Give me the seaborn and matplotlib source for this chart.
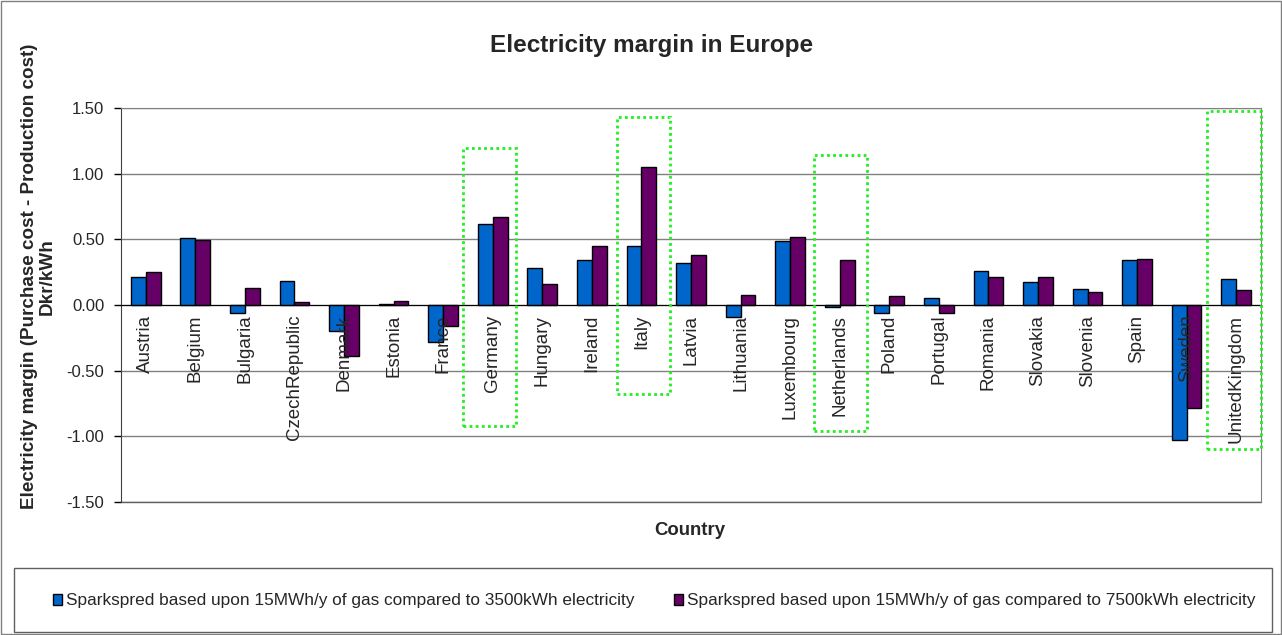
import matplotlib
matplotlib.use("Agg")
import matplotlib.pyplot as plt
from matplotlib.patches import Rectangle
from matplotlib.ticker import FixedLocator, FormatStrFormatter
import numpy as np
import pandas as pd
import seaborn as sns

countries = ["Austria", "Belgium", "Bulgaria", "CzechRepublic", "Denmark", "Estonia",
             "France", "Germany", "Hungary", "Ireland", "Italy", "Latvia", "Lithuania",
             "Luxembourg", "Netherlands", "Poland", "Portugal", "Romania", "Slovakia",
             "Slovenia", "Spain", "Sweden", "UnitedKingdom"]
spread_3500 = [0.21, 0.51, -0.06, 0.18, -0.20, 0.01, -0.285, 0.615, 0.285, 0.34, 0.45,
               0.32, -0.09, 0.485, -0.015, -0.06, 0.053, 0.258, 0.172, 0.121, 0.339,
               -1.03, 0.20]
spread_7500 = [0.25, 0.495, 0.13, 0.02, -0.39, 0.03, -0.16, 0.67, 0.16, 0.45, 1.053,
               0.38, 0.076, 0.52, 0.34, 0.066, -0.06, 0.212, 0.217, 0.098, 0.354,
               -0.783, 0.114]
series_names = ["Sparkspred based upon 15MWh/y of gas compared to 3500kWh electricity",
                "Sparkspred based upon 15MWh/y of gas compared to 7500kWh electricity"]
series_colors = ["#0066CC", "#660066"]
y_ticks = [-1.5, -1.0, -0.5, 0.0, 0.5, 1.0, 1.5]
highlighted = ["Germany", "Italy", "Netherlands", "UnitedKingdom"]

df = pd.DataFrame({
    "Country": countries * 2,
    "Margin": spread_3500 + spread_7500,
    "Series": [series_names[0]] * len(countries) + [series_names[1]] * len(countries),
})

sns.set_style("white")
plt.rcParams["font.family"] = ["Liberation Sans", "DejaVu Sans"]

fig = plt.figure(figsize=(12.82, 6.35), dpi=100)
ax = fig.add_axes([0.0944, 0.2094, 0.8892, 0.6205])

sns.barplot(data=df, x="Country", y="Margin", hue="Series", order=countries,
            hue_order=series_names, palette=series_colors, width=0.6,
            edgecolor="black", linewidth=1.0, saturation=1, ax=ax, zorder=3)

ax.set_xlim(-0.5, len(countries) - 0.5)
ax.set_ylim(-1.5, 1.5)

# horizontal gridlines including the outer limits
for yv in y_ticks:
    ax.axhline(yv, color="#808080", lw=1.0, zorder=1)
ax.yaxis.set_major_locator(FixedLocator(y_ticks))
ax.yaxis.set_major_formatter(FormatStrFormatter("%.2f"))
ax.tick_params(axis="y", direction="out", length=5, width=1, pad=7,
               labelsize=12, left=True, color="black")

# category axis crosses at zero
for s in ["top", "right"]:
    ax.spines[s].set_visible(True)
    ax.spines[s].set_color("#808080")
ax.spines["left"].set_color("#404040")
ax.spines["bottom"].set_position(("data", 0))
ax.spines["bottom"].set_color("black")
ax.spines["bottom"].set_zorder(4)
ax.plot([-0.5, len(countries) - 0.5], [-1.5, -1.5], color="#606060", lw=1, clip_on=False, zorder=2)

ax.set_xticks(np.arange(len(countries)))
ax.set_xticklabels(countries, rotation=90, va="top", ha="center")
ax.tick_params(axis="x", which="major", length=0, pad=7, labelsize=13.5)
ax.xaxis.set_minor_locator(FixedLocator(np.arange(0.5, len(countries) - 1, 1.0)))
ax.tick_params(axis="x", which="minor", direction="out", length=5, width=1, color="#404040")
ax.xaxis.set_zorder(6)
ax.set_xlabel("")
ax.set_ylabel("")

# dotted frames around selected countries
frames = {"Germany": (-0.6, 0.46, -0.92, 1.195),
          "Italy": (-0.5, 0.57, -0.68, 1.43),
          "Netherlands": (-0.51, 0.55, -0.96, 1.14),
          "UnitedKingdom": (-0.58, 0.5, -1.10, 1.48)}
for name in highlighted:
    i = countries.index(name)
    x0, x1, y0, y1 = frames[name]
    ax.add_patch(Rectangle((i + x0, y0), x1 - x0, y1 - y0, fill=False,
                           edgecolor="#22EE22", lw=2.0, linestyle=(0, (1, 1.2)),
                           clip_on=False, zorder=7))

handles, labels = ax.get_legend_handles_labels()
if ax.get_legend() is not None:
    ax.get_legend().remove()

fig.text(0.508, 0.929, "Electricity margin in Europe", ha="center", va="center",
         fontsize=17.5, fontweight="bold")
fig.text(0.030, 0.565, "Electricity margin (Purchase cost - Production cost)\nDkr/kWh",
         rotation=90, ha="center", va="center", multialignment="center",
         fontsize=13.6, fontweight="bold", linespacing=1.05)
fig.text(0.538, 0.164, "Country", ha="center", va="center", fontsize=13.4, fontweight="bold")

# legend frame spanning the width of the figure
fig.patches.append(Rectangle((14 / 1282, 3 / 635), 1258 / 1282, 64 / 635,
                             transform=fig.transFigure, fill=False,
                             edgecolor="#606060", lw=1.0))
lg = fig.legend(handles, labels, loc="center left", ncol=2,
                bbox_to_anchor=(53 / 1282, 1 - 601 / 635), frameon=False,
                fontsize=12.4, handlelength=0.55, handleheight=0.55, handletextpad=0.2,
                borderaxespad=0, borderpad=0, columnspacing=2.3)

fig.patches.append(Rectangle((0.001, 0.001), 0.998, 0.997, transform=fig.transFigure,
                             fill=False, edgecolor="#808080", lw=1.0))

fig.savefig("out.png", dpi=100)
